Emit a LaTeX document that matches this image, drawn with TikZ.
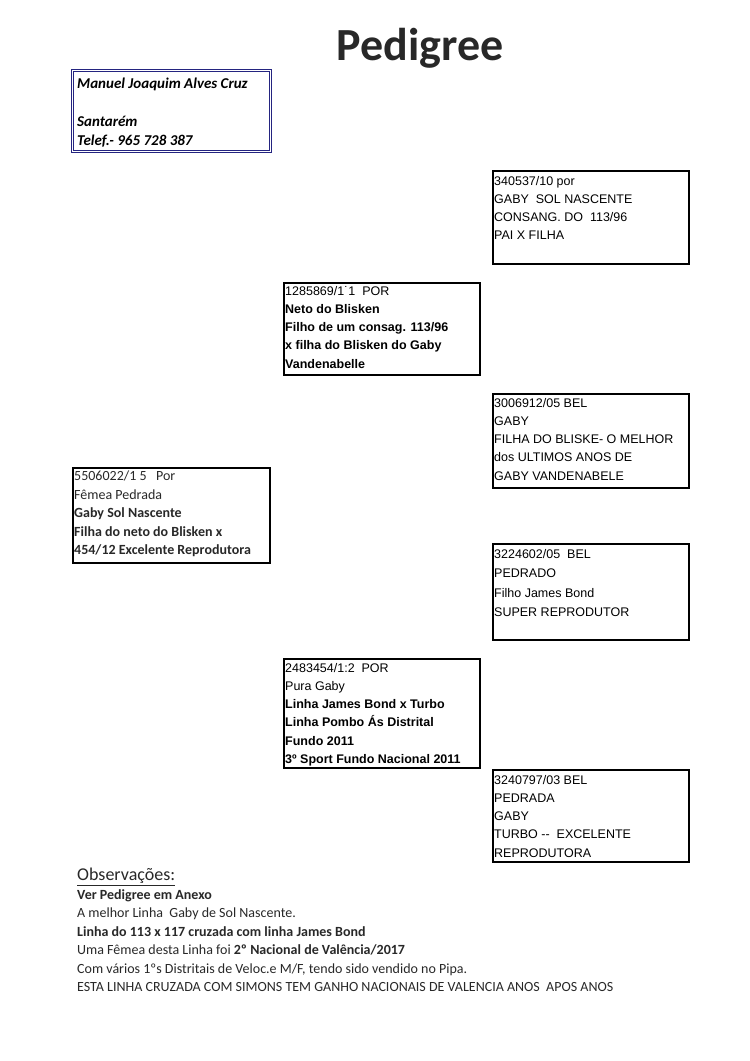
\documentclass[tikz,border=0pt]{standalone}
\usepackage{fontspec}
\setmainfont{Carlito}
\newfontfamily\arialfont{Liberation Sans}
\usetikzlibrary{positioning}

\definecolor{ownerblue}{RGB}{36,36,128}
\definecolor{inkgray}{RGB}{40,40,40}

\tikzset{
  pigeonbox/.style={draw=black,line width=2pt,anchor=north west,inner sep=0pt,
                    minimum width=196pt,minimum height=93pt},
  arialtxt/.style={anchor=north west,inner sep=0pt,align=left,
                   font=\arialfont\fontsize{12.5}{18.2}\selectfont},
  calibtxt/.style={anchor=north west,inner sep=0pt,align=left,text=inkgray,
                   font=\fontsize{14}{18.5}\selectfont},
}

\begin{document}
\begin{tikzpicture}[x=1pt,y=-1pt]
	\useasboundingbox (0,0) rectangle (750,1061);

	\node[font=\bfseries\fontsize{46}{46}\selectfont,text=inkgray] (title) at (420,48) {Pedigree};

	% owner
	\node[draw=ownerblue,line width=1pt,double=white,double distance=1.4pt,
	      anchor=north west,minimum width=198pt,minimum height=81pt] (owner) at (72,70) {};
	\node[anchor=north west,inner sep=0pt,align=left,
	      font=\bfseries\itshape\fontsize{15}{19}\selectfont] (ownertxt) at (77,78)
	      {Manuel Joaquim Alves Cruz\\[19pt] Santarém\\ Telef.- 965 728 387};

	% parents and grandparents
	\begin{scope}
		\node[pigeonbox] (a) at (492,170) {};
		\node[pigeonbox,minimum height=92pt] (b) at (283,282) {};
		\node[pigeonbox,minimum height=94pt] (c) at (492,393) {};
		\node[pigeonbox,minimum width=197pt,minimum height=95pt] (d) at (72,467) {};
		\node[pigeonbox,minimum height=96pt] (e) at (492,543) {};
		\node[pigeonbox,minimum height=109pt] (f) at (283,658) {};
		\node[pigeonbox,minimum height=92pt] (g) at (492,769) {};
	\end{scope}

	\node[arialtxt] (atxt) at ([xshift=2pt,yshift=-6pt]a.north west)
		{340537/10 por\\ GABY\ \ SOL NASCENTE\\ CONSANG. DO\ \ 113/96\\ PAI X FILHA};
	\node[arialtxt] (btxt) at ([xshift=2pt,yshift=-4pt]b.north west)
		{1285869/1˙1\ \ POR\\ \bfseries Neto do Blisken\\ \bfseries Filho de um consag. 113/96\\
		 \bfseries x filha do Blisken do Gaby\\ \bfseries Vandenabelle};
	\node[arialtxt] (ctxt) at ([xshift=2pt,yshift=-5pt]c.north west)
		{3006912/05 BEL\\ GABY\\ FILHA DO BLISKE- O MELHOR\\ dos ULTIMOS ANOS DE\\ GABY VANDENABELE};
	\node[calibtxt] (dtxt) at ([xshift=2pt,yshift=-4pt]d.north west)
		{5506022/1 5\ \ \ Por\\ Fêmea Pedrada\\ \bfseries Gaby Sol Nascente\\
		 \bfseries Filha do neto do Blisken x\\ \bfseries 454/12 Excelente Reprodutora};
	\node[arialtxt,font=\arialfont\fontsize{12.5}{19.5}\selectfont] (etxt) at ([xshift=2pt,yshift=-6pt]e.north west)
		{3224602/05\ \ BEL\\ PEDRADO\\ Filho James Bond\\ SUPER REPRODUTOR};
	\node[arialtxt] (ftxt) at ([xshift=2pt,yshift=-5pt]f.north west)
		{2483454/1:2\ \ POR\\ Pura Gaby\\ \bfseries Linha James Bond x Turbo\\
		 \bfseries Linha Pombo Ás Distrital\\ \bfseries Fundo 2011\\ \bfseries 3º Sport Fundo Nacional 2011};
	\node[arialtxt] (gtxt) at ([xshift=2pt,yshift=-6pt]g.north west)
		{3240797/03 BEL\\ PEDRADA\\ GABY\\ TURBO\ -- \ EXCELENTE\\ REPRODUTORA};

	% notes
	\node[anchor=north west,inner sep=0pt,text=inkgray,font=\fontsize{18}{18}\selectfont]
		(obs) at (77,868) {\underline{Observações:}};
	\node[calibtxt] (notes) at (77,889)
		{\bfseries Ver Pedigree em Anexo\\
		 A melhor Linha\ \ Gaby de Sol Nascente.\\
		 \bfseries Linha do 113 x 117 cruzada com linha James Bond\\
		 Uma Fêmea desta Linha foi \textbf{2º Nacional de Valência/2017}\\
		 Com vários 1ºs Distritais de Veloc.e M/F, tendo sido vendido no Pipa.\\
		 ESTA LINHA CRUZADA COM SIMONS TEM GANHO NACIONAIS DE VALENCIA ANOS\ \ APOS ANOS};
\end{tikzpicture}
\end{document}
